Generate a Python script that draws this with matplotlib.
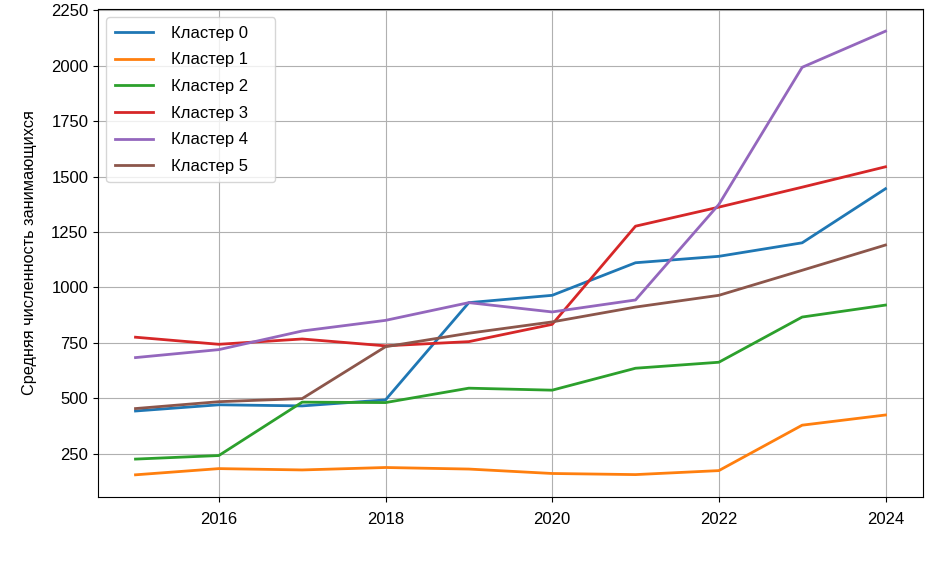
import matplotlib
matplotlib.use("Agg")
import matplotlib.pyplot as plt

plt.rcParams['font.family'] = ['Liberation Sans', 'DejaVu Sans']

years = [2015, 2016, 2017, 2018, 2019, 2020, 2021, 2022, 2023, 2024]

cluster_0 = [442, 470, 465, 492, 931, 964, 1111, 1140, 1201, 1445]
cluster_1 = [154, 182, 176, 187, 180, 160, 155, 173, 378, 424]
cluster_2 = [225, 241, 482, 480, 545, 536, 635, 662, 866, 920]
cluster_3 = [775, 743, 767, 736, 755, 833, 1276, 1362, 1452, 1544]
cluster_4 = [683, 719, 803, 851, 931, 889, 943, 1374, 1993, 2156]
cluster_5 = [453, 484, 498, 732, 793, 844, 911, 964, 1077, 1191]

series = [cluster_0, cluster_1, cluster_2, cluster_3, cluster_4, cluster_5]
labels = ['Кластер 0', 'Кластер 1', 'Кластер 2', 'Кластер 3', 'Кластер 4', 'Кластер 5']

fig = plt.figure(figsize=(9.35, 5.63), dpi=100)
ax = fig.add_axes([98 / 935, 1 - 497 / 563, 825 / 935, 488 / 563])

for values, label in zip(series, labels):
    # хвостовые пробелы дают более широкую рамку легенды, как в оригинале
    ax.plot(years, values, linewidth=2, label=label + '    ')

ax.set_ylabel('Средняя численность занимающихся', fontsize=11.7, labelpad=10)
ax.tick_params(labelsize=12)
ax.tick_params(axis='x', pad=7)
ax.set_yticks([250, 500, 750, 1000, 1250, 1500, 1750, 2000, 2250])
ax.set_xticks([2016, 2018, 2020, 2022, 2024])
ax.grid(True)
ax.legend(loc='upper left', fontsize=12, handlelength=2.3, handletextpad=1.1,
          labelspacing=0.7, borderpad=0.5)

fig.savefig('out.png', dpi=100)
